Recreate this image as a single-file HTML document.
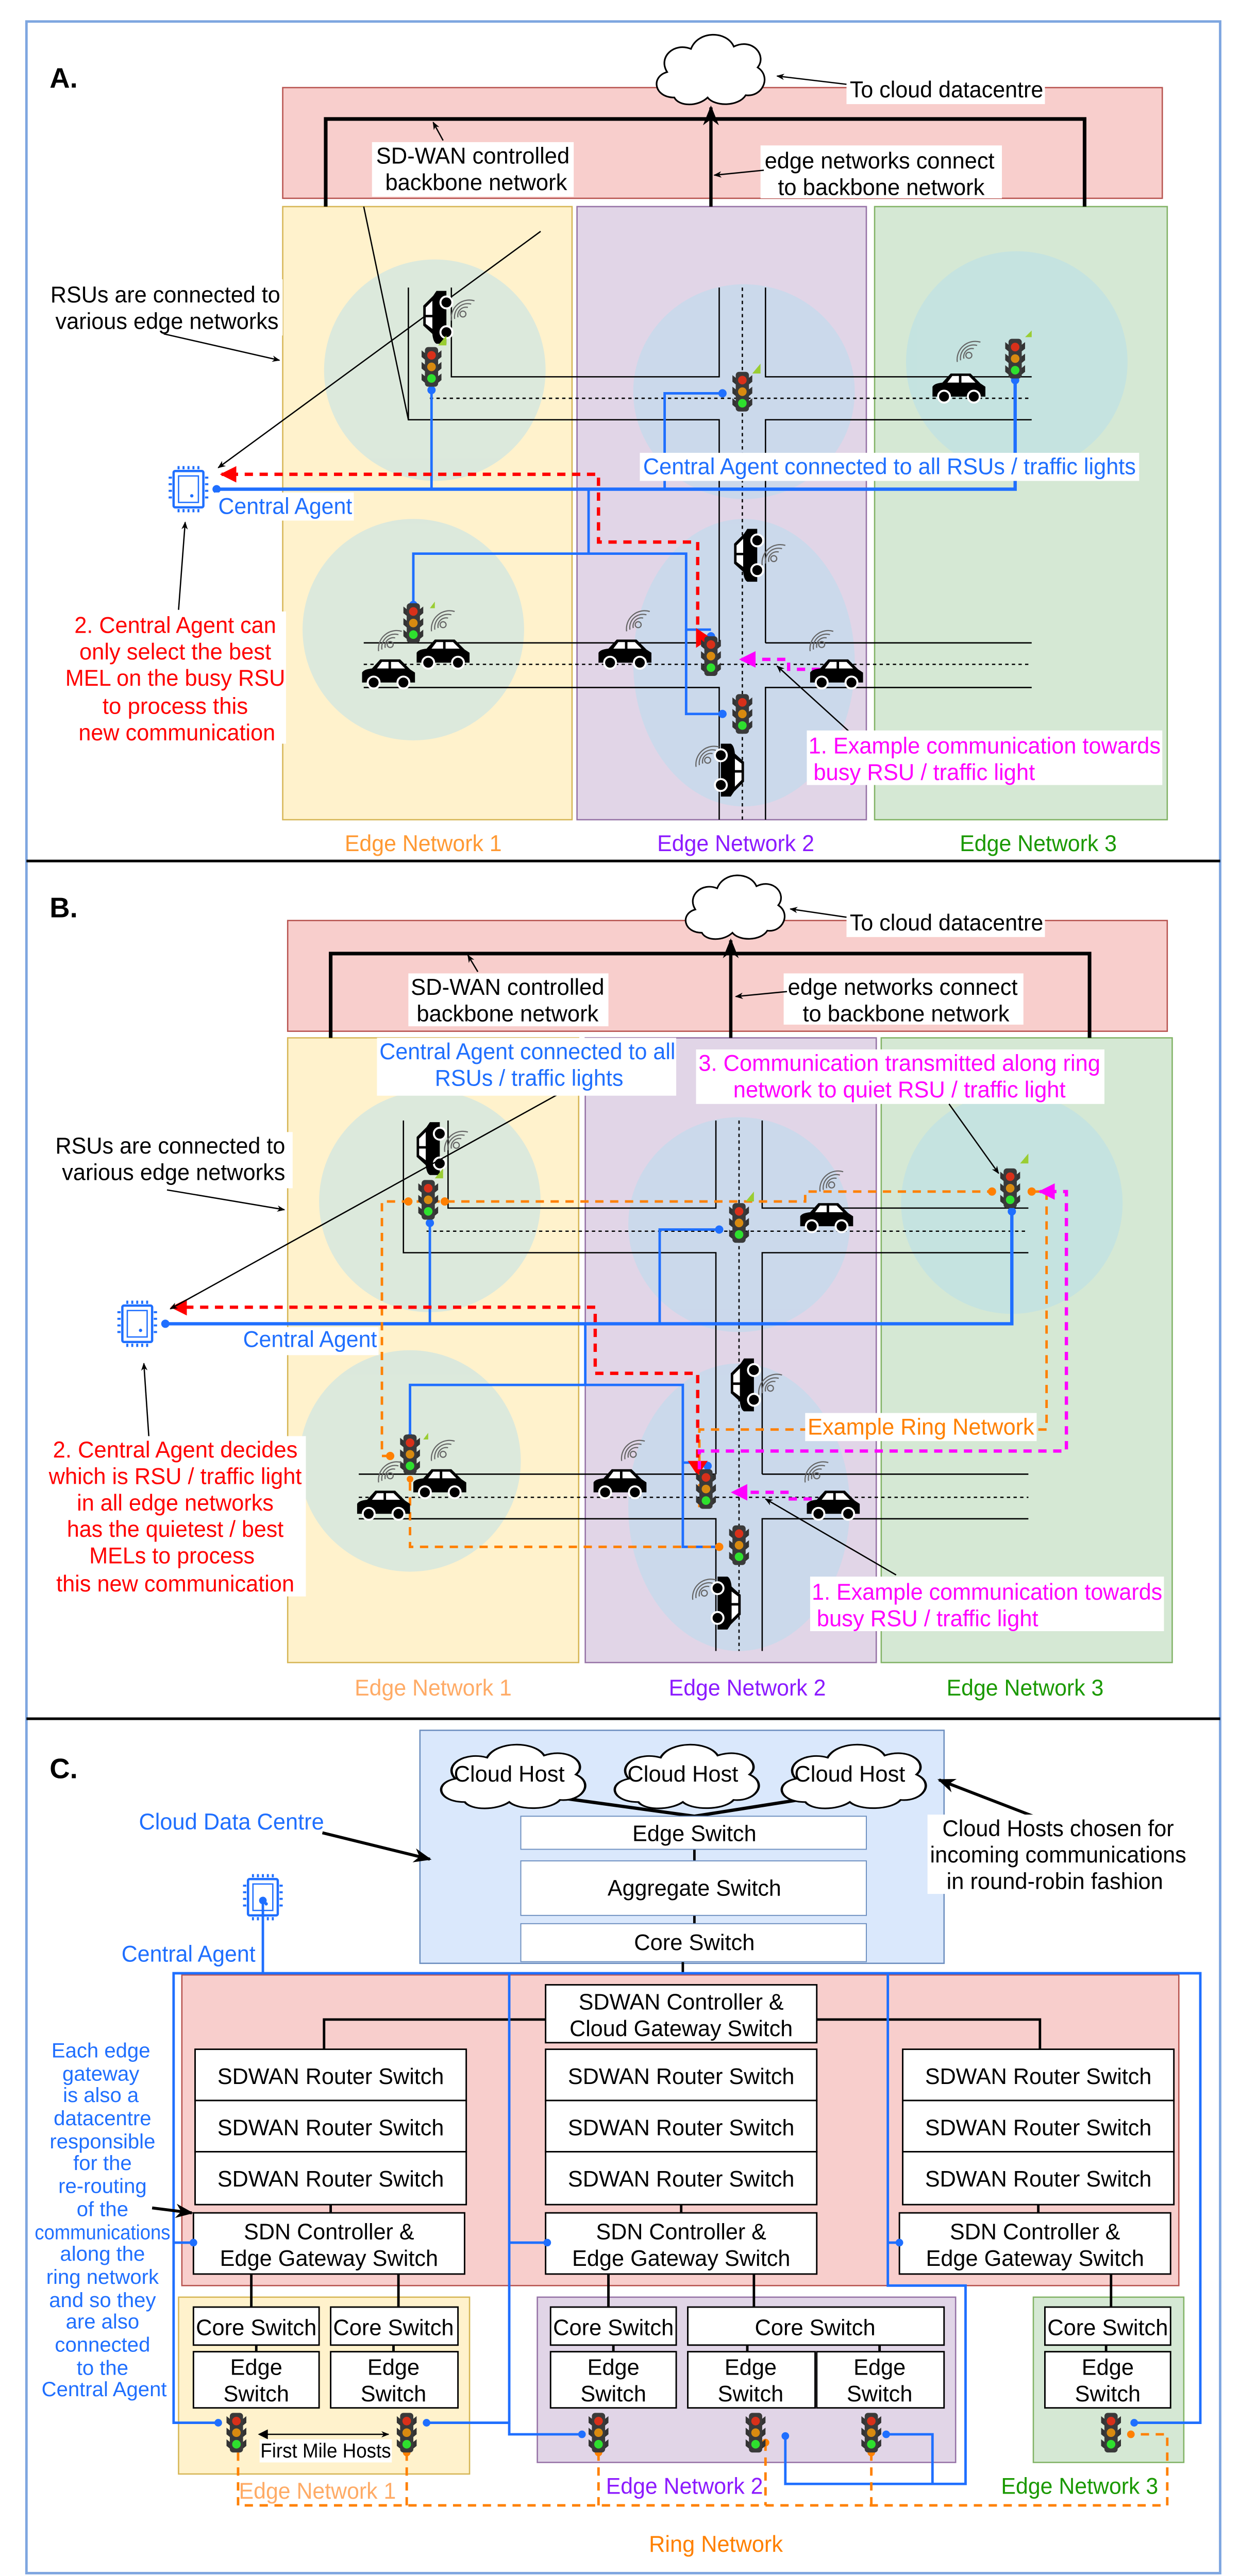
<!DOCTYPE html>
<html><head><meta charset="utf-8">
<style>
html,body{margin:0;padding:0;background:#fff;width:2406px;height:5049px;overflow:hidden;}
svg{display:block;position:absolute;left:0;top:0;}
text{font-family:"Liberation Sans",sans-serif;}
</style></head>
<body>
<svg xmlns="http://www.w3.org/2000/svg" xmlns:xlink="http://www.w3.org/1999/xlink" width="2406" height="5049" viewBox="0 0 750 1574" preserveAspectRatio="none" overflow="hidden">
<defs>
<marker id="ab" viewBox="0 0 10 10" refX="9" refY="5" markerWidth="6" markerHeight="6" orient="auto"><path d="M0,1 L10,5 L0,9 L3,5z" fill="#000"/></marker>
<marker id="ar" viewBox="0 0 10 10" refX="9" refY="5" markerWidth="5" markerHeight="5" orient="auto"><path d="M0,0 L10,5 L0,10z" fill="#f00"/></marker>
<marker id="am" viewBox="0 0 10 10" refX="9" refY="5" markerWidth="5" markerHeight="5" orient="auto"><path d="M0,0 L10,5 L0,10z" fill="#f0f"/></marker>
<g id="tl">
 <path d="M-6,-10 L-3.5,-8 L-3.5,-4 L-6,-6z M6,-10 L3.5,-8 L3.5,-4 L6,-6z M-6,-3 L-3.5,-1 L-3.5,3 L-6,1z M6,-3 L3.5,-1 L3.5,3 L6,1z M-6,4 L-3.5,6 L-3.5,10 L-6,8z M6,4 L3.5,6 L3.5,10 L6,8z" fill="#333"/>
 <rect x="-4" y="-12" width="8" height="24" rx="2" fill="#3a3a3a"/>
 <circle cx="0" cy="-7" r="2.6" fill="#d8301a"/><circle cx="0" cy="0" r="2.6" fill="#d88a10"/><circle cx="0" cy="7" r="2.6" fill="#2ee02e"/>
</g>
<g id="car">
 <path d="M-16,5 L-16,-1 Q-15,-3 -10,-3.5 L-5,-9 L7,-9 L13,-3 L16,-1 L16,5 Z" fill="#000"/>
 <path d="M-4,-7.5 L0,-7.5 L0,-3.5 L-7,-3.5z M1.5,-7.5 L6,-7.5 L10,-3.5 L1.5,-3.5z" fill="#fff"/>
 <circle cx="-9" cy="5" r="3.6" fill="#000" stroke="#fff" stroke-width="1.2"/>
 <circle cx="9" cy="5" r="3.6" fill="#000" stroke="#fff" stroke-width="1.2"/>
</g>
<g id="wifi" fill="none" stroke="#666" stroke-width="0.7">
 <circle cx="0" cy="0" r="1.8"/>
 <path d="M-3,2 A5,5 0 0 1 3,-4"/><path d="M-5,3 A8,8 0 0 1 5,-6"/><path d="M-7,4 A11,11 0 0 1 7,-8"/>
</g>
<g id="chip">
 <rect x="-9" y="-11" width="18" height="22" rx="1" fill="#fff" stroke="#1f6fff" stroke-width="1.4"/>
 <rect x="-6" y="-8" width="12" height="16" fill="none" stroke="#1f6fff" stroke-width="0.8"/>
 <circle cx="2" cy="4" r="1" fill="#1f6fff"/>
 <path d="M-6,-14 V-12 M-3,-14 V-12 M0,-14 V-12 M3,-14 V-12 M6,-14 V-12 M-6,12 V14 M-3,12 V14 M0,12 V14 M3,12 V14 M6,12 V14 M-12,-7 H-10 M-12,-3 H-10 M-12,1 H-10 M-12,5 H-10 M10,-7 H12 M10,-3 H12 M10,1 H12 M10,5 H12" stroke="#1f6fff" stroke-width="1.2"/>
</g>
<path id="cloud" d="M22,60 C5,60 2,42 16,38 C8,25 22,12 36,18 C42,2 66,2 72,16 C88,8 100,24 92,34 C104,42 96,60 82,58 C76,68 56,68 50,60 C42,68 26,68 22,60 Z"/>
</defs>

<rect x="0" y="0" width="750" height="1574" fill="#fff"/>
<rect x="16" y="13" width="722" height="1544" fill="none" stroke="#7ea6e0" stroke-width="1.5"/>
<line x1="16" y1="521" x2="738" y2="521" stroke="#000" stroke-width="1.6"/>
<line x1="16" y1="1040" x2="738" y2="1040" stroke="#000" stroke-width="1.6"/>

<!-- ================= A ================= -->
<text x="30" y="53" font-size="17" font-weight="bold">A.</text>
<rect x="171" y="53" width="532" height="67" fill="#f8cecc" stroke="#b85450" stroke-width="0.8"/>
<rect x="171" y="125" width="175" height="371" fill="#fff2cc" stroke="#d6b656" stroke-width="0.8"/>
<rect x="349" y="125" width="175" height="371" fill="#e1d5e7" stroke="#9673a6" stroke-width="0.8"/>
<rect x="529" y="125" width="177" height="371" fill="#d5e8d4" stroke="#82b366" stroke-width="0.8"/>
<g fill="#b1ddf0" opacity="0.45">
<ellipse cx="263" cy="224" rx="67" ry="67"/><ellipse cx="250" cy="381" rx="67" ry="67"/>
<ellipse cx="450" cy="237" rx="67" ry="65"/><ellipse cx="450" cy="401" rx="67" ry="87"/>
<ellipse cx="615" cy="219" rx="67" ry="67"/>
</g>
<g transform="translate(392,17) scale(0.72,0.7)"><use href="#cloud" fill="#fff" stroke="#000" stroke-width="1.4"/></g>
<path d="M197,125 V72 H656 V125" fill="none" stroke="#000" stroke-width="2.2"/>
<line x1="430" y1="125" x2="430" y2="65" stroke="#000" stroke-width="2" marker-end="url(#ab)"/>
<rect x="512" y="46" width="120" height="17" fill="#fff"/>
<text x="514" y="59" font-size="14" textLength="117" lengthAdjust="spacingAndGlyphs">To cloud datacentre</text>
<line x1="512" y1="51" x2="470" y2="46" stroke="#000" stroke-width="0.8" marker-end="url(#ab)"/>
<rect x="225" y="86" width="122" height="33" fill="#fff"/>
<text x="286" y="99" font-size="14" text-anchor="middle" textLength="117" lengthAdjust="spacingAndGlyphs">SD-WAN controlled</text>
<text x="288" y="115" font-size="14" text-anchor="middle" textLength="110" lengthAdjust="spacingAndGlyphs">backbone network</text>
<line x1="268" y1="85" x2="262" y2="74" stroke="#000" stroke-width="0.8" marker-end="url(#ab)"/>
<rect x="460" y="88" width="146" height="32" fill="#fff"/>
<text x="532" y="102" font-size="14" text-anchor="middle" textLength="139" lengthAdjust="spacingAndGlyphs">edge networks connect</text>
<text x="533" y="118" font-size="14" text-anchor="middle" textLength="125" lengthAdjust="spacingAndGlyphs">to backbone network</text>
<line x1="462" y1="103" x2="432" y2="106" stroke="#000" stroke-width="0.8" marker-end="url(#ab)"/>

<g stroke="#000" stroke-width="0.8" fill="none">
<path d="M247,174 V254 H435 V389 M273,174 V228 H435 V174 M463,174 V228 H624 M463,389 V254 H624 M220,389 H435 M463,389 H624 M220,416 H435 V496 M463,496 V416 H624"/>
</g>
<g stroke="#000" stroke-width="0.8" stroke-dasharray="2,2" fill="none">
<path d="M260,241 H624 M220,402 H624 M449,174 V496"/>
</g>
<line x1="220" y1="125" x2="247" y2="254" stroke="#000" stroke-width="0.8"/>
<line x1="327" y1="140" x2="132" y2="283" stroke="#000" stroke-width="0.8" marker-end="url(#ab)"/>

<g fill="none" stroke="#1f6fff" stroke-width="1.5">
<path d="M131,296 H614 V230" stroke-width="2"/>
<path d="M261,296 V236"/><path d="M402,296 V238 H437"/>
<path d="M356,296 V335 H250 V366"/><path d="M356,335 H415 V381 H430"/>
<path d="M415,381 V432 H437"/>
</g>
<g fill="#1f6fff"><circle cx="131" cy="296" r="2.5"/><circle cx="261" cy="236" r="2.5"/><circle cx="437" cy="238" r="2.5"/><circle cx="250" cy="366" r="2.5"/><circle cx="430" cy="385" r="2.5"/><circle cx="437" cy="432" r="2.5"/><circle cx="614" cy="230" r="2.5"/></g>
<path d="M422,387 V328 H362 V287 H134" fill="none" stroke="#f00" stroke-width="2" stroke-dasharray="5,4" marker-end="url(#ar)"/>
<path d="M421,380 L430,386 L421,392z" fill="#f00"/>
<path d="M505,405 H477 V399 H448" fill="none" stroke="#f0f" stroke-width="2" stroke-dasharray="5,4" marker-end="url(#am)"/>
<circle cx="505" cy="405" r="2.5" fill="#f0f"/>

<use href="#tl" x="261" y="222"/><use href="#tl" x="449" y="237"/><use href="#tl" x="614" y="217"/>
<use href="#tl" x="250" y="377"/><use href="#tl" x="430" y="397"/><use href="#tl" x="449" y="432"/>
<use href="#car" x="580" y="235"/><use href="#car" x="268" y="396"/><use href="#car" x="235" y="408"/><use href="#car" x="378" y="396"/><use href="#car" x="506" y="408"/>
<g transform="translate(265,192) rotate(-90)"><use href="#car"/></g>
<g transform="translate(453,336) rotate(-90)"><use href="#car"/></g>
<g transform="translate(441,466) rotate(90)"><use href="#car"/></g>
<use href="#wifi" x="280" y="190"/><use href="#wifi" x="586" y="215"/><use href="#wifi" x="268" y="378"/><use href="#wifi" x="236" y="390"/><use href="#wifi" x="386" y="378"/><use href="#wifi" x="497" y="390"/><use href="#wifi" x="468" y="338"/><use href="#wifi" x="428" y="460"/>
<path d="M265,209 L270,203 L270,209z M455,226 L460,220 L460,226z M620,204 L624,200 L624,204z M260,368 L263,364 L263,368z" fill="#9acd32"/>

<use href="#chip" x="114" y="296"/>
<rect x="130" y="298" width="84" height="17" fill="#fff"/>
<text x="132" y="311" font-size="14" fill="#1f6fff" textLength="81" lengthAdjust="spacingAndGlyphs">Central Agent</text>
<rect x="387" y="274" width="302" height="17" fill="#fff"/>
<text x="389" y="287" font-size="14" fill="#1f6fff" textLength="298" lengthAdjust="spacingAndGlyphs">Central Agent connected to all RSUs / traffic lights</text>
<rect x="28" y="169" width="143" height="34" fill="#fff"/>
<text x="100" y="183" font-size="14" text-anchor="middle" textLength="139" lengthAdjust="spacingAndGlyphs">RSUs are connected to</text>
<text x="101" y="199" font-size="14" text-anchor="middle" textLength="135" lengthAdjust="spacingAndGlyphs">various edge networks</text>
<line x1="99" y1="202" x2="169" y2="218" stroke="#000" stroke-width="0.8" marker-end="url(#ab)"/>
<line x1="108" y1="369" x2="112" y2="316" stroke="#000" stroke-width="0.8" marker-end="url(#ab)"/>
<rect x="37" y="370" width="136" height="80" fill="#fff"/>
<g font-size="14" fill="#f00" text-anchor="middle">
<text x="106" y="383" textLength="122" lengthAdjust="spacingAndGlyphs">2. Central Agent can</text>
<text x="106" y="399" textLength="116" lengthAdjust="spacingAndGlyphs">only select the best</text>
<text x="106" y="415" textLength="133" lengthAdjust="spacingAndGlyphs">MEL on the busy RSU</text>
<text x="106" y="432" textLength="88" lengthAdjust="spacingAndGlyphs">to process this</text>
<text x="107" y="448" textLength="119" lengthAdjust="spacingAndGlyphs">new communication</text>
</g>
<line x1="514" y1="443" x2="470" y2="403" stroke="#000" stroke-width="0.8" marker-end="url(#ab)"/>
<rect x="488" y="442" width="215" height="33" fill="#fff"/>
<text x="489" y="456" font-size="14" fill="#f0f" textLength="213" lengthAdjust="spacingAndGlyphs">1. Example communication towards</text>
<text x="492" y="472" font-size="14" fill="#f0f" textLength="134" lengthAdjust="spacingAndGlyphs">busy RSU / traffic light</text>
<text x="256" y="515" font-size="14" fill="#ff9933" text-anchor="middle" textLength="95" lengthAdjust="spacingAndGlyphs">Edge Network 1</text>
<text x="445" y="515" font-size="14" fill="#8c1aff" text-anchor="middle" textLength="95" lengthAdjust="spacingAndGlyphs">Edge Network 2</text>
<text x="628" y="515" font-size="14" fill="#1a9900" text-anchor="middle" textLength="95" lengthAdjust="spacingAndGlyphs">Edge Network 3</text>

<!-- ================= B ================= -->
<text x="30" y="555" font-size="17" font-weight="bold">B.</text>
<rect x="174" y="557" width="532" height="67" fill="#f8cecc" stroke="#b85450" stroke-width="0.8"/>
<rect x="174" y="628" width="176" height="378" fill="#fff2cc" stroke="#d6b656" stroke-width="0.8"/>
<rect x="354" y="628" width="176" height="378" fill="#e1d5e7" stroke="#9673a6" stroke-width="0.8"/>
<rect x="533" y="628" width="176" height="378" fill="#d5e8d4" stroke="#82b366" stroke-width="0.8"/>
<g fill="#b1ddf0" opacity="0.45">
<ellipse cx="260" cy="727" rx="67" ry="67"/><ellipse cx="248" cy="884" rx="67" ry="67"/>
<ellipse cx="447" cy="741" rx="67" ry="65"/><ellipse cx="447" cy="912" rx="67" ry="87"/>
<ellipse cx="612" cy="728" rx="67" ry="67"/>
</g>
<g transform="translate(410,526) scale(0.66,0.64)"><use href="#cloud" fill="#fff" stroke="#000" stroke-width="1.5"/></g>
<path d="M200,628 V577 H659 V628" fill="none" stroke="#000" stroke-width="2.2"/>
<line x1="442" y1="628" x2="442" y2="569" stroke="#000" stroke-width="2" marker-end="url(#ab)"/>
<rect x="512" y="550" width="120" height="17" fill="#fff"/>
<text x="514" y="563" font-size="14" textLength="117" lengthAdjust="spacingAndGlyphs">To cloud datacentre</text>
<line x1="512" y1="555" x2="478" y2="550" stroke="#000" stroke-width="0.8" marker-end="url(#ab)"/>
<rect x="247" y="589" width="121" height="32" fill="#fff"/>
<text x="307" y="602" font-size="14" text-anchor="middle" textLength="117" lengthAdjust="spacingAndGlyphs">SD-WAN controlled</text>
<text x="307" y="618" font-size="14" text-anchor="middle" textLength="110" lengthAdjust="spacingAndGlyphs">backbone network</text>
<line x1="289" y1="588" x2="283" y2="578" stroke="#000" stroke-width="0.8" marker-end="url(#ab)"/>
<rect x="474" y="589" width="145" height="31" fill="#fff"/>
<text x="546" y="602" font-size="14" text-anchor="middle" textLength="139" lengthAdjust="spacingAndGlyphs">edge networks connect</text>
<text x="548" y="618" font-size="14" text-anchor="middle" textLength="125" lengthAdjust="spacingAndGlyphs">to backbone network</text>
<line x1="476" y1="600" x2="445" y2="603" stroke="#000" stroke-width="0.8" marker-end="url(#ab)"/>

<g stroke="#000" stroke-width="0.8" fill="none">
<path d="M244,678 V758 H433 V892 M271,678 V731 H433 V678 M461,678 V731 H622 M461,892 V758 H622 M217,892 H433 M461,892 H622 M217,919 H433 V999 M461,999 V919 H622"/>
</g>
<g stroke="#000" stroke-width="0.8" stroke-dasharray="2,2" fill="none">
<path d="M258,745 H622 M217,906 H622 M447,678 V999"/>
</g>

<g fill="none" stroke="#1f6fff" stroke-width="1.5">
<path d="M100,801 H612 V733" stroke-width="2"/>
<path d="M260,801 V740"/><path d="M399,801 V744 H435"/>
<path d="M354,801 V838 H248 V870"/><path d="M354,838 H413 V885 H428"/>
<path d="M413,885 V936 H435"/>
</g>
<g fill="#1f6fff"><circle cx="100" cy="801" r="2.5"/><circle cx="260" cy="740" r="2.5"/><circle cx="435" cy="744" r="2.5"/><circle cx="248" cy="870" r="2.5"/><circle cx="428" cy="887" r="2.5"/><circle cx="612" cy="733" r="2.5"/></g>
<g fill="none" stroke="#ff8000" stroke-width="1.5" stroke-dasharray="5,4">
<path d="M236,881 H231 V727 H487 V721 H600"/>
<path d="M624,721 H633 V865 H423 V915"/>
<path d="M248,897 V936 H435"/>
</g>
<g fill="#ff8000"><circle cx="236" cy="881" r="2.5"/><circle cx="247" cy="727" r="2.5"/><circle cx="269" cy="727" r="2.5"/><circle cx="600" cy="721" r="2.5"/><circle cx="624" cy="721" r="2.5"/><circle cx="435" cy="936" r="2.5"/><circle cx="248" cy="895" r="2"/></g>
<path d="M422,891 V831 H360 V791 H104" fill="none" stroke="#f00" stroke-width="2" stroke-dasharray="5,4" marker-end="url(#ar)"/>
<path d="M416,884 L428,884 L422,893z" fill="#f00"/>
<path d="M423,889 V878 H645 V721 H629" fill="none" stroke="#f0f" stroke-width="2" stroke-dasharray="5,4" marker-end="url(#am)"/>
<path d="M500,907 H476 V903 H443" fill="none" stroke="#f0f" stroke-width="2" stroke-dasharray="5,4" marker-end="url(#am)"/>
<circle cx="500" cy="907" r="2.5" fill="#f0f"/>

<use href="#tl" x="259" y="726"/><use href="#tl" x="447" y="740"/><use href="#tl" x="611" y="719"/>
<use href="#tl" x="248" y="880"/><use href="#tl" x="427" y="901"/><use href="#tl" x="447" y="935"/>
<use href="#car" x="500" y="737"/><use href="#car" x="266" y="898"/><use href="#car" x="232" y="911"/><use href="#car" x="375" y="898"/><use href="#car" x="504" y="911"/>
<g transform="translate(261,695) rotate(-90)"><use href="#car"/></g>
<g transform="translate(451,838) rotate(-90)"><use href="#car"/></g>
<g transform="translate(439,970) rotate(90)"><use href="#car"/></g>
<use href="#wifi" x="276" y="693"/><use href="#wifi" x="503" y="717"/><use href="#wifi" x="268" y="880"/><use href="#wifi" x="236" y="893"/><use href="#wifi" x="383" y="880"/><use href="#wifi" x="494" y="893"/><use href="#wifi" x="466" y="840"/><use href="#wifi" x="426" y="964"/>
<path d="M263,713 L268,707 L268,713z M451,727 L456,721 L456,727z M617,704 L622,698 L622,704z M256,871 L259,867 L259,871z" fill="#9acd32"/>

<use href="#chip" x="83" y="801"/>
<rect x="145" y="803" width="84" height="17" fill="#fff"/>
<text x="147" y="815" font-size="14" fill="#1f6fff" textLength="81" lengthAdjust="spacingAndGlyphs">Central Agent</text>
<line x1="345" y1="658" x2="103" y2="792" stroke="#000" stroke-width="0.8" marker-end="url(#ab)"/>
<rect x="228" y="628" width="181" height="35" fill="#fff"/>
<text x="319" y="641" font-size="14" fill="#1f6fff" text-anchor="middle" textLength="179" lengthAdjust="spacingAndGlyphs">Central Agent connected to all</text>
<text x="320" y="657" font-size="14" fill="#1f6fff" text-anchor="middle" textLength="114" lengthAdjust="spacingAndGlyphs">RSUs / traffic lights</text>
<rect x="421" y="635" width="247" height="33" fill="#fff"/>
<text x="544" y="648" font-size="14" fill="#f0f" text-anchor="middle" textLength="243" lengthAdjust="spacingAndGlyphs">3. Communication transmitted along ring</text>
<text x="544" y="664" font-size="14" fill="#f0f" text-anchor="middle" textLength="201" lengthAdjust="spacingAndGlyphs">network to quiet RSU / traffic light</text>
<line x1="574" y1="668" x2="604" y2="710" stroke="#000" stroke-width="0.8" marker-end="url(#ab)"/>
<rect x="487" y="855" width="140" height="17" fill="#fff"/>
<text x="557" y="868" font-size="14" fill="#ff8000" text-anchor="middle" textLength="137" lengthAdjust="spacingAndGlyphs">Example Ring Network</text>
<rect x="32" y="685" width="145" height="34" fill="#fff"/>
<text x="103" y="698" font-size="14" text-anchor="middle" textLength="139" lengthAdjust="spacingAndGlyphs">RSUs are connected to</text>
<text x="105" y="714" font-size="14" text-anchor="middle" textLength="135" lengthAdjust="spacingAndGlyphs">various edge networks</text>
<line x1="101" y1="720" x2="172" y2="732" stroke="#000" stroke-width="0.8" marker-end="url(#ab)"/>
<line x1="90" y1="869" x2="87" y2="825" stroke="#000" stroke-width="0.8" marker-end="url(#ab)"/>
<rect x="28" y="869" width="157" height="97" fill="#fff"/>
<g font-size="14" fill="#f00" text-anchor="middle">
<text x="106" y="882" textLength="148" lengthAdjust="spacingAndGlyphs">2. Central Agent decides</text>
<text x="106" y="898" textLength="153" lengthAdjust="spacingAndGlyphs">which is RSU / traffic light</text>
<text x="106" y="914" textLength="119" lengthAdjust="spacingAndGlyphs">in all edge networks</text>
<text x="106" y="930" textLength="131" lengthAdjust="spacingAndGlyphs">has the quietest / best</text>
<text x="104" y="946" textLength="100" lengthAdjust="spacingAndGlyphs">MELs to process</text>
<text x="106" y="963" textLength="144" lengthAdjust="spacingAndGlyphs">this new communication</text>
</g>
<line x1="542" y1="953" x2="463" y2="907" stroke="#000" stroke-width="0.8" marker-end="url(#ab)"/>
<rect x="490" y="954" width="214" height="33" fill="#fff"/>
<text x="491" y="968" font-size="14" fill="#f0f" textLength="212" lengthAdjust="spacingAndGlyphs">1. Example communication towards</text>
<text x="494" y="984" font-size="14" fill="#f0f" textLength="134" lengthAdjust="spacingAndGlyphs">busy RSU / traffic light</text>
<text x="262" y="1026" font-size="14" fill="#ffab66" text-anchor="middle" textLength="95" lengthAdjust="spacingAndGlyphs">Edge Network 1</text>
<text x="452" y="1026" font-size="14" fill="#8c1aff" text-anchor="middle" textLength="95" lengthAdjust="spacingAndGlyphs">Edge Network 2</text>
<text x="620" y="1026" font-size="14" fill="#1a9900" text-anchor="middle" textLength="95" lengthAdjust="spacingAndGlyphs">Edge Network 3</text>

<!-- ================= C ================= -->
<text x="30" y="1076" font-size="17" font-weight="bold">C.</text>
<rect x="254" y="1047" width="317" height="141" fill="#dae8fc" stroke="#6c8ebf" stroke-width="0.8"/>
<path d="M340,1088 L420,1099 L490,1088" fill="none" stroke="#000" stroke-width="2"/>
<g transform="translate(260,1052) scale(0.96,0.64)"><use href="#cloud" fill="#fff" stroke="#000" stroke-width="1.5"/></g>
<g transform="translate(365,1052) scale(0.96,0.64)"><use href="#cloud" fill="#fff" stroke="#000" stroke-width="1.5"/></g>
<g transform="translate(466,1052) scale(0.96,0.64)"><use href="#cloud" fill="#fff" stroke="#000" stroke-width="1.5"/></g>
<text x="308" y="1078" font-size="13.5" text-anchor="middle" textLength="67" lengthAdjust="spacingAndGlyphs">Cloud Host</text>
<text x="413" y="1078" font-size="13.5" text-anchor="middle" textLength="67" lengthAdjust="spacingAndGlyphs">Cloud Host</text>
<text x="514" y="1078" font-size="13.5" text-anchor="middle" textLength="67" lengthAdjust="spacingAndGlyphs">Cloud Host</text>
<path d="M420,1119 V1126 M420,1159 V1164 M413,1187 V1201" stroke="#000" stroke-width="1.5"/>
<rect x="315" y="1099" width="209" height="20" fill="#fff" stroke="#6c8ebf" stroke-width="0.6"/>
<rect x="315" y="1126" width="209" height="33" fill="#fff" stroke="#6c8ebf" stroke-width="0.6"/>
<rect x="315" y="1164" width="209" height="23" fill="#fff" stroke="#6c8ebf" stroke-width="0.6"/>
<text x="420" y="1114" font-size="13.5" text-anchor="middle" textLength="75" lengthAdjust="spacingAndGlyphs">Edge Switch</text>
<text x="420" y="1147" font-size="13.5" text-anchor="middle" textLength="105" lengthAdjust="spacingAndGlyphs">Aggregate Switch</text>
<text x="420" y="1180" font-size="13.5" text-anchor="middle" textLength="73" lengthAdjust="spacingAndGlyphs">Core Switch</text>
<text x="140" y="1107" font-size="14" fill="#1f6fff" text-anchor="middle" textLength="112" lengthAdjust="spacingAndGlyphs">Cloud Data Centre</text>
<line x1="195" y1="1109" x2="260" y2="1125" stroke="#000" stroke-width="1.8" marker-end="url(#ab)"/>
<line x1="625" y1="1099" x2="568" y2="1077" stroke="#000" stroke-width="1.8" marker-end="url(#ab)"/>
<rect x="561" y="1098" width="157" height="48" fill="#fff"/>
<text x="640" y="1111" font-size="14" text-anchor="middle" textLength="140" lengthAdjust="spacingAndGlyphs">Cloud Hosts chosen for</text>
<text x="640" y="1127" font-size="14" text-anchor="middle" textLength="155" lengthAdjust="spacingAndGlyphs">incoming communications</text>
<text x="638" y="1143" font-size="14" text-anchor="middle" textLength="131" lengthAdjust="spacingAndGlyphs">in round-robin fashion</text>
<use href="#chip" x="159" y="1148"/>
<text x="114" y="1187" font-size="14" fill="#1f6fff" text-anchor="middle" textLength="81" lengthAdjust="spacingAndGlyphs">Central Agent</text>

<rect x="110" y="1195" width="603" height="188" fill="#f8cecc" stroke="#b85450" stroke-width="0.8"/>
<rect x="108" y="1390" width="176" height="107" fill="#fff2cc" stroke="#d6b656" stroke-width="0.8"/>
<rect x="325" y="1390" width="253" height="100" fill="#e1d5e7" stroke="#9673a6" stroke-width="0.8"/>
<rect x="625" y="1390" width="91" height="100" fill="#d5e8d4" stroke="#82b366" stroke-width="0.8"/>
<path d="M330,1222 H196 V1240 M494,1222 H629 V1240 M200,1334 V1339 M412,1334 V1339 M628,1334 V1339" fill="none" stroke="#000" stroke-width="1.5"/>
<path d="M152,1376 V1396 M241,1376 V1396 M368,1376 V1396 M456,1376 V1396 M672,1376 V1396 M155,1419 V1423 M238,1419 V1423 M371,1419 V1423 M452,1419 V1423 M532,1419 V1423 M669,1419 V1423" stroke="#000" stroke-width="1.5"/>
<g fill="#fff" stroke="#000" stroke-width="0.9">
<rect x="330" y="1201" width="164" height="35"/>
<rect x="118" y="1240" width="164" height="31"/><rect x="118" y="1271" width="164" height="31"/><rect x="118" y="1302" width="164" height="32"/>
<rect x="330" y="1240" width="164" height="31"/><rect x="330" y="1271" width="164" height="31"/><rect x="330" y="1302" width="164" height="32"/>
<rect x="546" y="1240" width="164" height="31"/><rect x="546" y="1271" width="164" height="31"/><rect x="546" y="1302" width="164" height="32"/>
<rect x="117" y="1339" width="164" height="37"/><rect x="330" y="1339" width="164" height="37"/><rect x="544" y="1339" width="164" height="37"/>
<rect x="117" y="1396" width="76" height="23"/><rect x="200" y="1396" width="77" height="23"/>
<rect x="117" y="1423" width="76" height="34"/><rect x="200" y="1423" width="77" height="34"/>
<rect x="333" y="1396" width="76" height="23"/><rect x="416" y="1396" width="155" height="23"/>
<rect x="333" y="1423" width="76" height="34"/><rect x="416" y="1423" width="77" height="34"/><rect x="494" y="1423" width="77" height="34"/>
<rect x="632" y="1396" width="76" height="23"/><rect x="632" y="1423" width="76" height="34"/>
</g>
<g font-size="13.5" text-anchor="middle">
<text x="412" y="1216" textLength="124" lengthAdjust="spacingAndGlyphs">SDWAN Controller &amp;</text>
<text x="412" y="1232" textLength="135" lengthAdjust="spacingAndGlyphs">Cloud Gateway Switch</text>
<text x="200" y="1261" textLength="137" lengthAdjust="spacingAndGlyphs">SDWAN Router Switch</text>
<text x="200" y="1292" textLength="137" lengthAdjust="spacingAndGlyphs">SDWAN Router Switch</text>
<text x="200" y="1323" textLength="137" lengthAdjust="spacingAndGlyphs">SDWAN Router Switch</text>
<text x="412" y="1261" textLength="137" lengthAdjust="spacingAndGlyphs">SDWAN Router Switch</text>
<text x="412" y="1292" textLength="137" lengthAdjust="spacingAndGlyphs">SDWAN Router Switch</text>
<text x="412" y="1323" textLength="137" lengthAdjust="spacingAndGlyphs">SDWAN Router Switch</text>
<text x="628" y="1261" textLength="137" lengthAdjust="spacingAndGlyphs">SDWAN Router Switch</text>
<text x="628" y="1292" textLength="137" lengthAdjust="spacingAndGlyphs">SDWAN Router Switch</text>
<text x="628" y="1323" textLength="137" lengthAdjust="spacingAndGlyphs">SDWAN Router Switch</text>
<text x="199" y="1355" textLength="103" lengthAdjust="spacingAndGlyphs">SDN Controller &amp;</text>
<text x="199" y="1371" textLength="132" lengthAdjust="spacingAndGlyphs">Edge Gateway Switch</text>
<text x="412" y="1355" textLength="103" lengthAdjust="spacingAndGlyphs">SDN Controller &amp;</text>
<text x="412" y="1371" textLength="132" lengthAdjust="spacingAndGlyphs">Edge Gateway Switch</text>
<text x="626" y="1355" textLength="103" lengthAdjust="spacingAndGlyphs">SDN Controller &amp;</text>
<text x="626" y="1371" textLength="132" lengthAdjust="spacingAndGlyphs">Edge Gateway Switch</text>
<text x="155" y="1413" textLength="73" lengthAdjust="spacingAndGlyphs">Core Switch</text>
<text x="238" y="1413" textLength="73" lengthAdjust="spacingAndGlyphs">Core Switch</text>
<text x="371" y="1413" textLength="73" lengthAdjust="spacingAndGlyphs">Core Switch</text>
<text x="493" y="1413" textLength="73" lengthAdjust="spacingAndGlyphs">Core Switch</text>
<text x="670" y="1413" textLength="73" lengthAdjust="spacingAndGlyphs">Core Switch</text>
<text x="155" y="1437">Edge</text><text x="155" y="1453">Switch</text>
<text x="238" y="1437">Edge</text><text x="238" y="1453">Switch</text>
<text x="371" y="1437">Edge</text><text x="371" y="1453">Switch</text>
<text x="454" y="1437">Edge</text><text x="454" y="1453">Switch</text>
<text x="532" y="1437">Edge</text><text x="532" y="1453">Switch</text>
<text x="670" y="1437">Edge</text><text x="670" y="1453">Switch</text>
</g>

<g fill="none" stroke="#1f6fff" stroke-width="1.5">
<path d="M159,1150 V1194"/>
<path d="M132,1466 H105 V1194 H726 V1466 H686"/>
<path d="M105,1357 H117"/>
<path d="M258,1466 H308 V1194"/><path d="M308,1357 H331"/><path d="M308,1466 V1473 H352"/>
<path d="M537,1194 V1383 H584 V1503 H475 V1474"/><path d="M537,1357 H544"/><path d="M536,1473 H564 V1503"/>
</g>
<g fill="#1f6fff"><circle cx="159" cy="1150" r="2.3"/><circle cx="132" cy="1466" r="2.3"/><circle cx="117" cy="1357" r="2.3"/><circle cx="258" cy="1466" r="2.3"/><circle cx="331" cy="1357" r="2.3"/><circle cx="352" cy="1473" r="2.3"/><circle cx="475" cy="1474" r="2.3"/><circle cx="544" cy="1357" r="2.3"/><circle cx="536" cy="1473" r="2.3"/><circle cx="686" cy="1466" r="2.3"/></g>
<g fill="none" stroke="#ff8000" stroke-width="1.5" stroke-dasharray="5,4">
<path d="M144,1484 V1516 H706 V1473 H686"/>
<path d="M246,1484 V1516 M362,1484 V1516 M463,1478 V1516 M527,1484 V1516"/>
</g>
<g fill="#ff8000"><circle cx="246" cy="1484" r="2.3"/><circle cx="362" cy="1484" r="2.3"/><circle cx="463" cy="1478" r="2.3"/><circle cx="527" cy="1484" r="2.3"/><circle cx="684" cy="1473" r="2.3"/></g>
<use href="#tl" x="143" y="1472"/><use href="#tl" x="246" y="1472"/><use href="#tl" x="362" y="1472"/><use href="#tl" x="457" y="1472"/><use href="#tl" x="527" y="1472"/><use href="#tl" x="672" y="1472"/>
<line x1="158" y1="1473" x2="235" y2="1473" stroke="#000" stroke-width="0.8" marker-end="url(#ab)"/>
<path d="M162,1470 L156,1473 L162,1476z" fill="#000"/>
<rect x="157" y="1476" width="80" height="14" fill="#fff"/>
<text x="197" y="1487" font-size="12" text-anchor="middle" textLength="79" lengthAdjust="spacingAndGlyphs">First Mile Hosts</text>
<text x="192" y="1512" font-size="14" fill="#ffab66" text-anchor="middle" textLength="95" lengthAdjust="spacingAndGlyphs">Edge Network 1</text>
<text x="414" y="1509" font-size="14" fill="#8c1aff" text-anchor="middle" textLength="95" lengthAdjust="spacingAndGlyphs">Edge Network 2</text>
<text x="653" y="1509" font-size="14" fill="#1a9900" text-anchor="middle" textLength="95" lengthAdjust="spacingAndGlyphs">Edge Network 3</text>
<text x="433" y="1544" font-size="14" fill="#ff8000" text-anchor="middle" textLength="81" lengthAdjust="spacingAndGlyphs">Ring Network</text>
<g font-size="12.5" fill="#1f6fff" text-anchor="middle">
<text x="61" y="1245">Each edge</text>
<text x="61" y="1259">gateway</text>
<text x="61" y="1272">is also a</text>
<text x="62" y="1286">datacentre</text>
<text x="62" y="1300">responsible</text>
<text x="62" y="1313">for the</text>
<text x="62" y="1327">re-routing</text>
<text x="62" y="1341">of the</text>
<text x="62" y="1355" textLength="82" lengthAdjust="spacingAndGlyphs">communications</text>
<text x="62" y="1368">along the</text>
<text x="62" y="1382">ring network</text>
<text x="62" y="1396">and so they</text>
<text x="62" y="1409">are also</text>
<text x="62" y="1423">connected</text>
<text x="62" y="1437">to the</text>
<text x="63" y="1450">Central Agent</text>
</g>
<line x1="92" y1="1336" x2="116" y2="1339" stroke="#000" stroke-width="1.8" marker-end="url(#ab)"/>
</svg>
</body></html>
